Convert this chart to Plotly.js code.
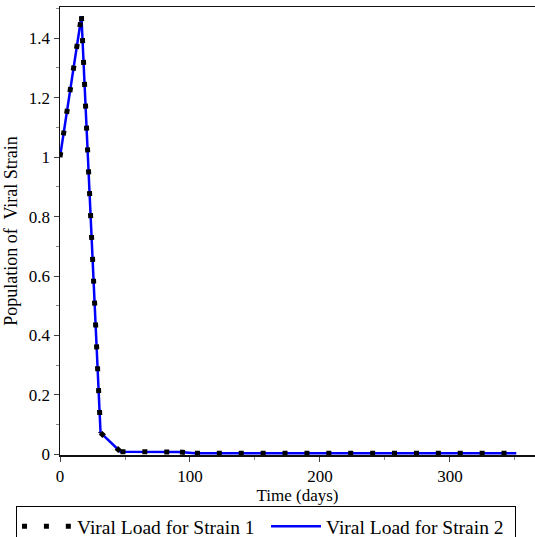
<!DOCTYPE html>
<html>
<head>
<meta charset="utf-8">
<script src="https://cdn.plot.ly/plotly-3.0.1.min.js"></script>
<style>
  html, body { margin: 0; padding: 0; background: #ffffff; }
  #chart { width: 535px; height: 537px; }
</style>
</head>
<body>
<div id="chart"></div>
<script>
// Time (days) at the vertices of the plotted curves
var timeDays = [0, 16.5, 31.2, 46.5, 92.3, 103.8, 351];
// Viral load for strain 1 (dotted black) and strain 2 (solid blue)
var strain1 = [1.0, 1.474, 0.073, 0.009, 0.008, 0.004, 0.004];
var strain2 = [1.0, 1.474, 0.073, 0.009, 0.008, 0.004, 0.004];
var seriesNames = ["Viral Load for Strain 1", "Viral Load for Strain 2"];
var xTickVals = [0, 100, 200, 300];
var yTickVals = [0, 0.2, 0.4, 0.6, 0.8, 1, 1.2, 1.4];

var serif = "'Liberation Serif', 'Times New Roman', serif";

var traces = [];
// strain 2: solid blue line (drawn underneath)
traces.push({
  x: timeDays, y: strain2, type: "scatter", mode: "lines",
  name: seriesNames[1], legendrank: 2,
  line: {color: "#0000ff", width: 2.5},
  hoverinfo: "skip"
});
// strain 1: dotted line of square dots; the dot pattern restarts on each segment
for (var i = 0; i < timeDays.length - 1; i++) {
  traces.push({
    x: [timeDays[i], timeDays[i + 1]],
    y: [strain1[i], strain1[i + 1]],
    type: "scatter", mode: "lines",
    name: seriesNames[0], legendgroup: "s1", legendrank: 1,
    showlegend: i === 0,
    line: {color: "#000000", width: 5, dash: "5px,16.9px"},
    hoverinfo: "skip"
  });
}

var layout = {
  width: 535, height: 537,
  margin: {l: 60, r: 0, t: 7, b: 82, autoexpand: false},
  paper_bgcolor: "#ffffff", plot_bgcolor: "#ffffff",
  font: {family: serif, size: 17, color: "#000000"},
  showlegend: true,
  xaxis: {
    range: [0, 365.4],
    tickvals: xTickVals,
    ticks: "outside", ticklen: 5, tickwidth: 1, tickcolor: "#444",
    minor: {dtick: 50, tick0: 0, ticks: "outside", ticklen: 3, tickcolor: "#888", showgrid: false},
    showgrid: false, zeroline: false,
    showline: true, linecolor: "#111", linewidth: 1.5, mirror: true,
    tickfont: {family: serif, size: 17, color: "#000"},
    title: {text: "Time (days)", font: {family: serif, size: 17, color: "#000"}, standoff: 0}
  },
  yaxis: {
    range: [-0.002, 1.505],
    tickvals: yTickVals,
    ticks: "outside", ticklen: 5, tickwidth: 1, tickcolor: "#444",
    minor: {dtick: 0.1, tick0: 0, ticks: "outside", ticklen: 3, tickcolor: "#888", showgrid: false},
    showgrid: false, zeroline: false,
    showline: true, linecolor: "#111", linewidth: 1.5, mirror: false,
    tickfont: {family: serif, size: 17, color: "#000"},
    title: {text: "Population of\u00a0 Viral Strain", font: {family: serif, size: 18, color: "#000"}, standoff: 6}
  },
  legend: {
    orientation: "h",
    x: -0.0926, xanchor: "left",
    y: -0.1140, yanchor: "top",
    traceorder: "normal",
    itemwidth: 50,
    entrywidth: 184,
    bordercolor: "#000", borderwidth: 1,
    bgcolor: "#ffffff",
    font: {family: serif, size: 19.5, color: "#000"}
  }
};

Plotly.newPlot("chart", traces, layout, {displayModeBar: false, staticPlot: true});
</script>
</body>
</html>
